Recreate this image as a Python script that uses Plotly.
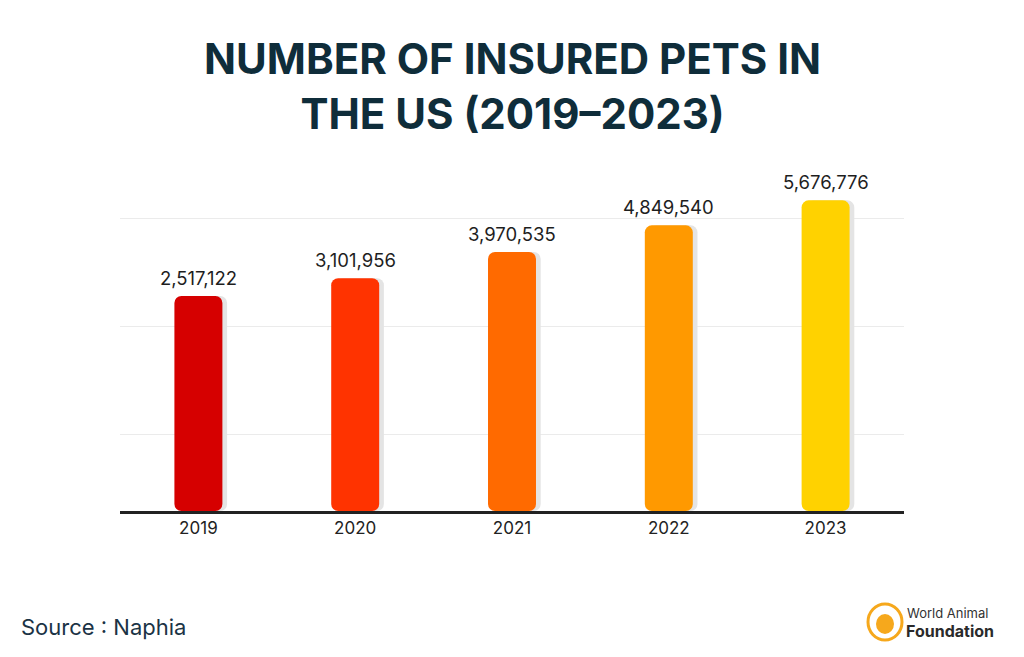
import plotly.graph_objects as go

years = ["2019", "2020", "2021", "2022", "2023"]
insured_pets = [2517122, 3101956, 3970535, 4849540, 5676776]
bar_colors = ["#d60000", "#ff3300", "#ff6a00", "#ff9900", "#ffd200"]
grid_values = [-2.05e6, 1.52e6, 5.06e6]

Y_MIN, Y_MAX = -4.59e6, 7.34e6
BAR_W = 0.306

W, H = 1024, 657
OFF = 8  # page body margin
ML, MR, MT, MB = 112, 128, 142, 154
PW, PH = W - ML - MR, H - MT - MB


def fx(px):
    return (px - OFF - ML) / PW


def fy(py):
    return (H - MB + OFF - py) / PH


fig = go.Figure()

# shadow bars
fig.add_trace(go.Bar(
    x=years, y=[v - Y_MIN for v in insured_pets], base=Y_MIN,
    width=BAR_W, offset=-BAR_W / 2 + 0.03,
    marker=dict(color="#e4e4e4", line=dict(width=0)),
    hoverinfo="skip", showlegend=False,
))
# main bars
fig.add_trace(go.Bar(
    x=years, y=[v - Y_MIN for v in insured_pets], base=Y_MIN,
    width=BAR_W, offset=-BAR_W / 2,
    marker=dict(color=bar_colors, line=dict(width=0)),
    customdata=insured_pets,
    hovertemplate="%{x}: %{customdata:,}<extra></extra>",
    showlegend=False,
))

for i, v in enumerate(insured_pets):
    fig.add_annotation(
        x=i, y=v, xref="x", yref="y", text=f"{v:,}",
        showarrow=False, yanchor="bottom", yshift=5,
        font=dict(family="Inter, Poppins, sans-serif", size=18.5, color="#1e1e1e"),
    )

# title
fig.add_annotation(
    x=fx(512), y=fy(31), xref="paper", yref="paper", xanchor="center", yanchor="top",
    text="<b>NUMBER OF INSURED PETS IN<br>THE US (2019\u20132023)</b>",
    showarrow=False, align="center",
    font=dict(family="Inter, sans-serif", size=42, color="#0f2d3a", weight=800),
)
# source
fig.add_annotation(
    x=fx(19), y=fy(627), xref="paper", yref="paper", xanchor="left", yanchor="middle",
    text="Source : Naphia", showarrow=False,
    font=dict(family="Inter, sans-serif", size=22, color="#1b3345"),
)
# logo
fig.add_shape(type="circle", xref="paper", yref="paper",
              x0=fx(868), x1=fx(902), y0=fy(640), y1=fy(604),
              line=dict(color="#f6a81c", width=3), fillcolor="rgba(0,0,0,0)")
fig.add_shape(type="circle", xref="paper", yref="paper",
              x0=fx(876), x1=fx(894), y0=fy(634), y1=fy(614),
              line=dict(width=0), fillcolor="#f6a81c")
fig.add_annotation(
    x=fx(905), y=fy(613), xref="paper", yref="paper", xanchor="left", yanchor="middle",
    text="World Animal", showarrow=False,
    font=dict(family="Inter, sans-serif", size=13, color="#333333"),
)
fig.add_annotation(
    x=fx(904), y=fy(631), xref="paper", yref="paper", xanchor="left", yanchor="middle",
    text="<b>Foundation</b>", showarrow=False,
    font=dict(family="Inter, sans-serif", size=16, color="#2a2a2a"),
)

fig.update_layout(
    width=W, height=H,
    margin=dict(l=ML, r=MR, t=MT, b=MB, pad=0),
    paper_bgcolor="white", plot_bgcolor="white",
    barmode="overlay", barcornerradius=7,
    xaxis=dict(
        type="category", range=[-0.5, 4.5],
        showline=True, linecolor="#222222", linewidth=3,
        showgrid=False, ticks="", ticklabelstandoff=0,
        tickfont=dict(family="Inter, Poppins, sans-serif", size=17, color="#222222"),
        fixedrange=True,
    ),
    yaxis=dict(
        range=[Y_MIN, Y_MAX], tickvals=grid_values, showticklabels=False,
        showgrid=True, gridcolor="#ebebeb", gridwidth=1, zeroline=False,
        showline=False, ticks="", fixedrange=True,
    ),
    font=dict(family="Inter, sans-serif"),
)

fig.write_html("out.html")
